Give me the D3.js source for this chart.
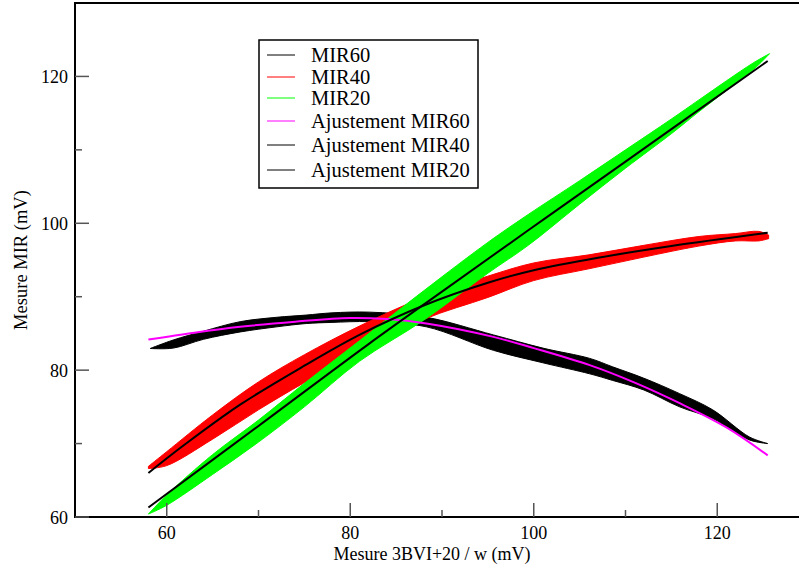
<!DOCTYPE html>
<html>
<head>
<meta charset="utf-8">
<script src="https://cdn.jsdelivr.net/npm/d3@7"></script>
<style>
  body { margin: 0; background: #fff; }
  svg { display: block; font-family: "Liberation Serif", "DejaVu Serif", serif; }
</style>
</head>
<body>
<div id="chart"></div>
<script>
// measured loops: x positions with upper / lower branch of the cycles
var mir60X     = [58.2, 60.7, 64, 68, 72, 75.2, 78, 82.1, 88.3, 95.6, 101, 106.1, 108.6, 112, 115.9, 119.5, 123.5, 125.5];
var mir60Upper = [82.95, 84.1, 85.3, 86.6, 87.2, 87.5, 87.8, 87.9, 87.2, 84.8, 83.0, 81.6, 80.45, 78.9, 76.8, 74.6, 70.9, 70.0];
var mir60Lower = [82.95, 83.0, 84.2, 85.2, 85.9, 86.35, 86.5, 86.6, 85.9, 82.7, 81.0, 79.5, 78.6, 77.3, 75.0, 73.4, 70.5, 70.0];

var mir40X     = [58, 60, 65, 70, 75, 81, 88, 95, 100, 106, 112, 118, 122, 124.5, 125.6];
var mir40Upper = [66.9, 68.9, 73.9, 78.4, 82.1, 86.0, 89.9, 92.8, 94.6, 95.7, 97.0, 98.2, 98.6, 98.9, 98.4];
var mir40Lower = [66.6, 67.0, 70.6, 74.6, 78.3, 82.4, 86.9, 89.9, 92.2, 93.8, 95.4, 96.9, 97.6, 97.6, 97.9];

var mir20X     = [58, 60, 65, 70, 75, 81, 88, 95, 99.4, 105, 110, 115, 118, 121, 124, 125.7];
var mir20Upper = [60.4, 63.0, 68.5, 73.2, 78.2, 84.0, 90.8, 97.4, 101.2, 105.8, 110.0, 114.2, 116.8, 119.4, 121.9, 123.1];
var mir20Lower = [60.4, 61.6, 65.8, 70.2, 75.0, 81.2, 86.8, 93.2, 97.0, 102.6, 107.5, 112.2, 115.2, 118.1, 121.0, 123.1];

// fitted curves
var fit60X = [58, 63, 68, 74, 80, 84, 88.3, 95.6, 100, 106.1, 111, 115.9, 121, 125.5];
var fit60Y = [84.17, 85.1, 85.9, 86.6, 87.1, 86.95, 86.35, 84.53, 83.0, 80.68, 78.3, 75.5, 72.2, 68.4];
var fit40X = [58, 62, 68, 75, 81, 88, 95, 100, 107, 115, 125.5];
var fit40Y = [66.0, 69.9, 75.3, 80.6, 84.8, 88.8, 91.9, 93.6, 95.3, 96.9, 98.7];
var fit20X = [58, 70, 82, 90, 99.4, 110, 125.5];
var fit20Y = [61.3, 72.4, 83.55, 90.7, 99.05, 108.4, 122.1];

var xMajor = [60, 80, 100, 120];
var xMinor = [70, 90, 110, 130];
var yMajor = [60, 80, 100, 120];
var yMinor = [70, 90, 110];

var legendNames = ["MIR60", "MIR40", "MIR20", "Ajustement MIR60", "Ajustement MIR40", "Ajustement MIR20"];
var legendColors = ["#000", "#ff0000", "#00ff00", "#ff00ff", "#000", "#000"];
var legendRows = [55, 77, 98, 121, 145, 170];

var width = 799, height = 569;
var svg = d3.select("#chart").append("svg")
    .attr("width", width)
    .attr("height", height);

var x = d3.scaleLinear().domain([50, 130]).range([75, 809]);
var y = d3.scaleLinear().domain([60, 130]).range([517, 3]);

function zip(xs, ys) { return xs.map(function(v, i) { return [v, ys[i]]; }); }

var line = d3.line().x(d => x(d[0])).y(d => y(d[1])).curve(d3.curveCatmullRom);
var band = d3.area()
    .x(d => x(d.x)).y0(d => y(d.lo)).y1(d => y(d.hi))
    .curve(d3.curveCatmullRom);

function drawBand(xs, hi, lo, color) {
    var rows = xs.map(function(v, i) { return {x: v, hi: hi[i], lo: lo[i]}; });
    svg.append("path").attr("d", band(rows))
        .attr("fill", color).attr("stroke", color).attr("stroke-width", 1);
}

drawBand(mir60X, mir60Upper, mir60Lower, "#000");
drawBand(mir40X, mir40Upper, mir40Lower, "#ff0000");
drawBand(mir20X, mir20Upper, mir20Lower, "#00ff00");

var fits = [[fit60X, fit60Y, "#ff00ff"], [fit40X, fit40Y, "#000"], [fit20X, fit20Y, "#000"]];
fits.forEach(function(f) {
    svg.append("path").attr("d", line(zip(f[0], f[1])))
        .attr("fill", "none").attr("stroke", f[2]).attr("stroke-width", 2);
});

// frame
svg.append("rect")
    .attr("x", x(50)).attr("y", y(130))
    .attr("width", x(130) - x(50)).attr("height", y(60) - y(130))
    .attr("fill", "none").attr("stroke", "#000").attr("stroke-width", 2);

// ticks
var ax = svg.append("g").attr("stroke", "#555").attr("stroke-width", 1.5);
xMajor.forEach(v => ax.append("line").attr("x1", x(v)).attr("x2", x(v)).attr("y1", 517).attr("y2", 503));
xMinor.forEach(v => ax.append("line").attr("x1", x(v)).attr("x2", x(v)).attr("y1", 517).attr("y2", 510));
yMajor.forEach(v => ax.append("line").attr("y1", y(v)).attr("y2", y(v)).attr("x1", 75).attr("x2", 89));
yMinor.forEach(v => ax.append("line").attr("y1", y(v)).attr("y2", y(v)).attr("x1", 75).attr("x2", 82));

svg.append("g").selectAll("text").data(xMajor).enter().append("text")
    .attr("x", d => x(d)).attr("y", 539)
    .attr("text-anchor", "middle").attr("font-size", 18)
    .text(d => d);
svg.append("g").selectAll("text").data(yMajor).enter().append("text")
    .attr("x", 68).attr("y", d => y(d) + 6.5)
    .attr("text-anchor", "end").attr("font-size", 18)
    .text(d => d);

svg.append("text").attr("x", 432).attr("y", 560)
    .attr("text-anchor", "middle").attr("font-size", 18)
    .text("Mesure 3BVI+20 / w (mV)");
svg.append("text")
    .attr("transform", "translate(27," + 260 + ") rotate(-90)")
    .attr("text-anchor", "middle").attr("font-size", 18.5)
    .text("Mesure MIR (mV)");

// legend
var lg = svg.append("g");
lg.append("rect").attr("x", 259).attr("y", 40).attr("width", 219).attr("height", 148)
    .attr("fill", "#fff").attr("stroke", "#000").attr("stroke-width", 1.5);
legendNames.forEach(function(n, i) {
    lg.append("line").attr("x1", 267).attr("x2", 295)
        .attr("y1", legendRows[i]).attr("y2", legendRows[i])
        .attr("stroke", legendColors[i]).attr("stroke-width", 1);
    lg.append("text").attr("x", 311).attr("y", legendRows[i] + 6.5)
        .attr("font-size", 20.5).text(n);
});
</script>
</body>
</html>
